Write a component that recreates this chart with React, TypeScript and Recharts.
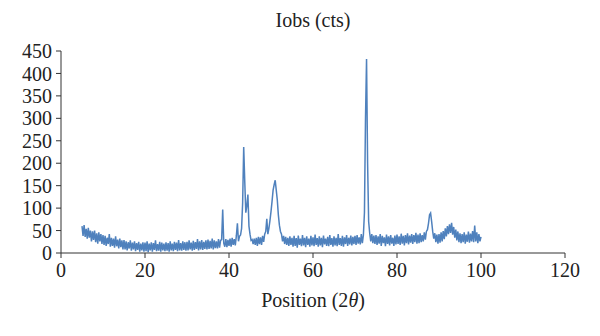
import React from 'react';
import { LineChart, Line, XAxis, YAxis } from 'recharts';

// scan starts at 5 deg, one reading every 0.25 deg up to 100 deg
const START = 5;
const STEP = 0.25;

// Iobs counts, one row per 5 deg
const counts: number[] = [
  60, 38, 62, 36, 54, 32, 56, 34, 50, 26, 48, 29, 50, 24, 44, 21, 46, 26, 42, 20,
  40, 18, 38, 16, 34, 20, 42, 14, 34, 16, 32, 12, 37, 15, 30, 10, 32, 13, 28, 8,
  29, 8, 26, 6, 24, 10, 28, 5, 23, 8, 26, 4, 22, 7, 25, 3, 21, 6, 24, 3,
  23, 4, 26, 2, 21, 6, 24, 3, 22, 7, 28, 4, 20, 5, 25, 3, 23, 6, 21, 4,
  24, 5, 22, 3, 26, 6, 21, 4, 25, 7, 23, 4, 29, 6, 22, 5, 26, 7, 24, 5,
  25, 6, 28, 8, 23, 5, 27, 7, 24, 9, 31, 6, 26, 8, 29, 7, 25, 9, 28, 8,
  30, 9, 27, 10, 32, 8, 28, 11, 26, 10, 31, 12, 28, 30, 97, 22, 14, 31, 13, 29,
  16, 32, 14, 34, 18, 31, 17, 38, 66, 26, 37, 40, 55, 112, 236, 160, 90, 105, 130, 60,
  42, 28, 30, 20, 32, 18, 34, 16, 36, 20, 35, 18, 38, 25, 42, 48, 76, 42, 55, 72,
  92, 115, 140, 152, 162, 140, 118, 85, 62, 48, 42, 26, 38, 20, 36, 18, 34, 16, 37, 18,
  34, 14, 38, 16, 33, 12, 39, 18, 32, 15, 40, 17, 34, 13, 37, 18, 32, 14, 38, 17,
  35, 15, 41, 18, 33, 14, 37, 17, 34, 13, 39, 19, 32, 16, 36, 15, 40, 18, 33, 14,
  37, 17, 34, 15, 42, 18, 33, 16, 38, 14, 35, 20, 40, 16, 34, 19, 39, 17, 36, 20,
  38, 18, 40, 21, 35, 19, 42, 22, 40, 90, 300, 432, 200, 70, 44, 26, 42, 22, 39, 20,
  40, 18, 37, 21, 42, 16, 38, 22, 35, 15, 41, 20, 37, 17, 40, 21, 34, 16, 39, 19,
  41, 20, 37, 18, 43, 21, 38, 17, 40, 22, 44, 19, 39, 23, 42, 20, 40, 24, 45, 21,
  41, 22, 44, 24, 40, 26, 46, 30, 48, 52, 66, 85, 89, 70, 48, 32, 44, 24, 41, 21,
  42, 23, 46, 26, 49, 31, 55, 37, 60, 42, 64, 45, 67, 41, 58, 34, 52, 28, 48, 24,
  44, 22, 42, 24, 46, 21, 41, 25, 48, 23, 43, 26, 49, 24, 61, 26, 46, 22, 42, 26,
  36,
];

const xTicks = [0, 20, 40, 60, 80, 100, 120];
const yTicks = [0, 50, 100, 150, 200, 250, 300, 350, 400, 450];

const data = counts.map((v, i) => ({ pos: START + i * STEP, iobs: v }));

const FONT = '"Liberation Serif", "Times New Roman", serif';
const tickStyle = { fontSize: 20, fill: '#222', fontFamily: FONT };

export default function App() {
  return (
    <div style={{ position: 'absolute', left: 0, top: 0, width: 600, height: 336, background: '#fff', fontFamily: FONT }}>
      <div style={{ position: 'absolute', top: 9, left: 0, width: 626, textAlign: 'center', fontSize: 20, color: '#222' }}>
        Iobs (cts)
      </div>
      <LineChart width={600} height={336} data={data} margin={{ top: 51, right: 35, bottom: 53, left: 0 }}>
        <XAxis
          dataKey="pos"
          type="number"
          domain={[0, 120]}
          ticks={xTicks}
          interval={0}
          height={30}
          tickSize={5}
          tickMargin={5}
          stroke="#333"
          tick={tickStyle}
        />
        <YAxis
          type="number"
          domain={[0, 450]}
          ticks={yTicks}
          interval={0}
          width={61}
          tickSize={5}
          tickMargin={4}
          stroke="#333"
          tick={tickStyle}
        />
        <Line
          dataKey="iobs"
          stroke="#4f81bd"
          strokeWidth={1.5}
          dot={false}
          isAnimationActive={false}
        />
      </LineChart>
      <div style={{ position: 'absolute', top: 289, left: 0, width: 626, textAlign: 'center', fontSize: 20, color: '#222' }}>
        Position (2<i>θ</i>)
      </div>
    </div>
  );
}
